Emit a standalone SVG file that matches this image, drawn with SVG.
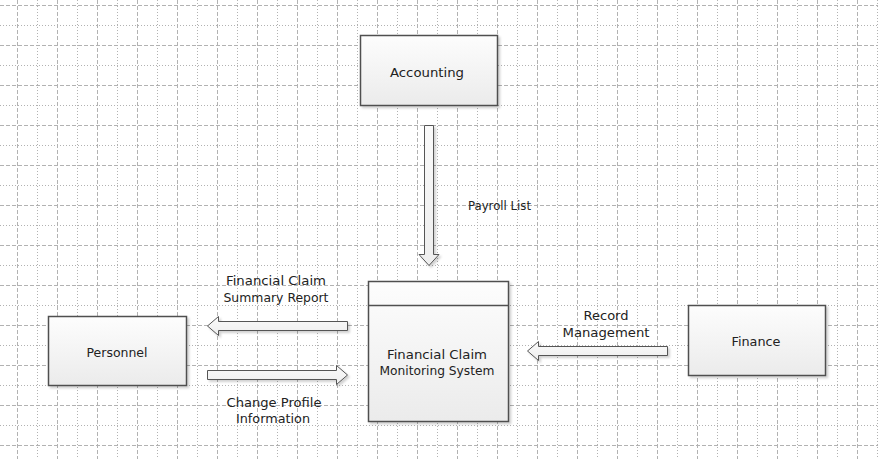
<svg xmlns="http://www.w3.org/2000/svg" width="878" height="459" viewBox="0 0 878 459">
<style>
.bg{fill:#ffffff}
.gmaj{fill:none;stroke:#b2b2b2;stroke-width:1;stroke-dasharray:4 2}
.gmin{fill:none;stroke:#b2b2b2;stroke-width:1;stroke-dasharray:1 2}
.box{fill:url(#g);stroke:#505050;stroke-width:1.5;filter:url(#sh)}
.arr{fill:url(#ga);stroke:#555555;stroke-width:1;filter:url(#sh)}
.t{font-family:"DejaVu Sans",Verdana,sans-serif;font-size:13px;fill:#222222;text-anchor:middle}
.tl{font-family:"DejaVu Sans",Verdana,sans-serif;font-size:13px;fill:#222222}
</style>
<defs>
<linearGradient id="g" x1="0" y1="0" x2="0" y2="1">
<stop offset="0" stop-color="#fdfdfd"/>
<stop offset="1" stop-color="#ebebeb"/>
</linearGradient>
<linearGradient id="ga" x1="0" y1="0" x2="0" y2="1">
<stop offset="0" stop-color="#fafafa"/>
<stop offset="1" stop-color="#eeeeee"/>
</linearGradient>
<filter id="sh" x="-10%" y="-10%" width="130%" height="130%">
<feDropShadow dx="2" dy="2" stdDeviation="1.2" flood-color="#000" flood-opacity="0.18"/>
</filter>
</defs>
<rect class="bg" x="0" y="0" width="878" height="459"/>
<g id="grid">
<path class="gmaj" d="M0 5.5H878M0 45.5H878M0 85.5H878M0 125.5H878M0 165.5H878M0 205.5H878M0 245.5H878M0 285.5H878M0 325.5H878M0 365.5H878M0 405.5H878M0 445.5H878"/>
<path class="gmin" d="M0 25.5H878M0 65.5H878M0 105.5H878M0 145.5H878M0 185.5H878M0 225.5H878M0 265.5H878M0 305.5H878M0 345.5H878M0 385.5H878M0 425.5H878"/>
<path class="gmaj" d="M17.5 0V459M57.5 0V459M97.5 0V459M137.5 0V459M177.5 0V459M217.5 0V459M257.5 0V459M297.5 0V459M337.5 0V459M377.5 0V459M417.5 0V459M457.5 0V459M497.5 0V459M537.5 0V459M577.5 0V459M617.5 0V459M657.5 0V459M697.5 0V459M737.5 0V459M777.5 0V459M817.5 0V459M857.5 0V459"/>
<path class="gmin" d="M37.5 0V459M77.5 0V459M117.5 0V459M157.5 0V459M197.5 0V459M237.5 0V459M277.5 0V459M317.5 0V459M357.5 0V459M397.5 0V459M437.5 0V459M477.5 0V459M517.5 0V459M557.5 0V459M597.5 0V459M637.5 0V459M677.5 0V459M717.5 0V459M757.5 0V459M797.5 0V459M837.5 0V459M877.5 0V459"/>
</g>
<g id="connectors">
<path class="arr" d="M424.5 125.5H433.5V254.5H439L429 265.5L419 254.5H424.5Z"/>
<path class="arr" d="M347.5 321.5V330.5H218.5V335.5L207.5 326L218.5 316.5V321.5Z"/>
<path class="arr" d="M207.5 370.5H336.5V365.5L347.5 375L336.5 384.5V379.5H207.5Z"/>
<path class="arr" d="M667.5 346.5V355.5H538.5V360.5L527.5 351L538.5 341.5V346.5Z"/>
<text class="tl" x="468" y="210" textLength="63" lengthAdjust="spacingAndGlyphs">Payroll List</text>
<text class="t" x="276" y="285" textLength="100" lengthAdjust="spacingAndGlyphs">Financial Claim</text>
<text class="t" x="276" y="301.5" textLength="105" lengthAdjust="spacingAndGlyphs">Summary Report</text>
<text class="t" x="274" y="406.5" textLength="95" lengthAdjust="spacingAndGlyphs">Change Profile</text>
<text class="t" x="273" y="423" textLength="74" lengthAdjust="spacingAndGlyphs">Information</text>
<text class="t" x="606" y="320" textLength="45" lengthAdjust="spacingAndGlyphs">Record</text>
<text class="t" x="606" y="337" textLength="87" lengthAdjust="spacingAndGlyphs">Management</text>
</g>
<g id="accounting">
<rect class="box" x="360.5" y="35.5" width="137" height="70"/>
<text class="t" x="427" y="77" textLength="74" lengthAdjust="spacingAndGlyphs">Accounting</text>
</g>
<g id="fcms">
<rect class="box" x="368.5" y="281.5" width="140" height="140"/>
<path d="M368.5 305.5H508.5" stroke="#505050" stroke-width="1.5"/>
<text class="t" x="437" y="359" textLength="100" lengthAdjust="spacingAndGlyphs">Financial Claim</text>
<text class="t" x="437" y="375" textLength="115" lengthAdjust="spacingAndGlyphs">Monitoring System</text>
</g>
<g id="personnel">
<rect class="box" x="48.5" y="316.5" width="138" height="69"/>
<text class="t" x="117" y="357" textLength="61" lengthAdjust="spacingAndGlyphs">Personnel</text>
</g>
<g id="finance">
<rect class="box" x="688.5" y="305.5" width="137" height="70"/>
<text class="t" x="756" y="346" textLength="49" lengthAdjust="spacingAndGlyphs">Finance</text>
</g>
</svg>
